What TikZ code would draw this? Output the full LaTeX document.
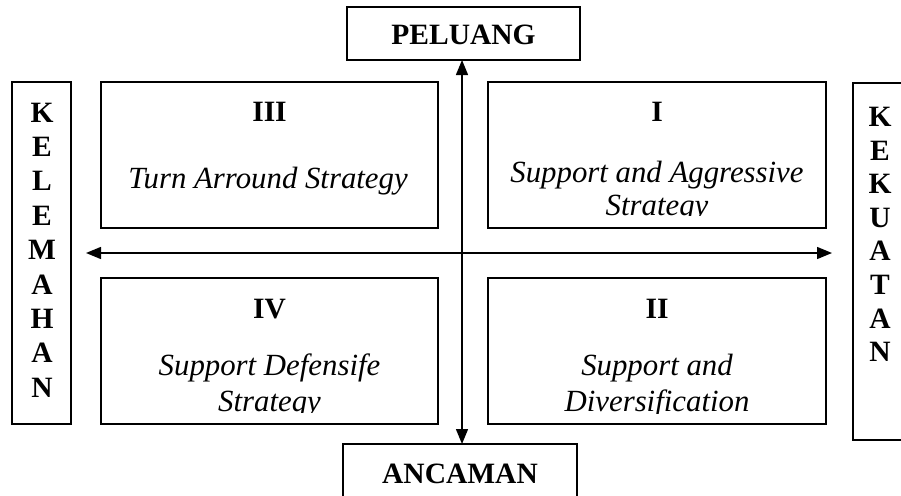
\documentclass[tikz,border=0pt]{standalone}
\usepackage{fontspec}
\setmainfont{Liberation Serif}
\usetikzlibrary{arrows.meta}

\begin{document}
\begin{tikzpicture}[x=1pt,y=-1pt,
  >={Triangle[length=15pt,width=12pt]},
  frame/.style={draw, line width=1.4pt, inner sep=0pt, outer sep=0pt},
  hd/.style={font=\bfseries\fontsize{29.5}{34}\selectfont, anchor=base, inner sep=0pt},
  itx/.style={font=\itshape\fontsize{30.8}{34}\selectfont, anchor=base, inner sep=0pt},
  axis/.style={line width=1.4pt, <->}
]
\useasboundingbox (0,0) rectangle (901,495);

% frames
\node[frame, minimum width=233pt, minimum height=53pt] (pel) at (463.5,33.5) {};
\node[frame, minimum width=234pt, minimum height=56pt] (anc) at (460,472) {};
\node[frame, minimum width=59pt, minimum height=342pt] (kel) at (41.5,253) {};
\node[frame, minimum width=59pt, minimum height=357pt] (kek) at (882.5,261.5) {};
\node[frame, minimum width=337pt, minimum height=146pt] (q3) at (269.5,155) {};
\node[frame, minimum width=338pt, minimum height=146pt] (q1) at (657,155) {};
\node[frame, minimum width=337pt, minimum height=146pt] (q4) at (269.5,351) {};
\node[frame, minimum width=338pt, minimum height=146pt] (q2) at (657,351) {};

% axis labels
\node[hd] (tpel) at (463.5,45) {PELUANG};
\node[hd] (tanc) at (460,483) {ANCAMAN};
\foreach \ch [count=\i from 0] in {K,E,L,E,M,A,H,A,N}
  \node[hd] (kel\i) at (42,{122+34.4*\i}) {\ch};
\foreach \ch [count=\i from 0] in {K,E,K,U,A,T,A,N}
  \node[hd] (kek\i) at (880,{126.5+33.6*\i}) {\ch};

% quadrant texts, clipped inside the text area of each box
\begin{scope}
  \clip (q3.north west) rectangle ([yshift=12pt]q3.south east);
  \node[hd] (n3) at (269.5,121) {III};
  \node[itx] (s3) at (268,188) {Turn Arround Strategy};
\end{scope}
\begin{scope}
  \clip (q1.north west) rectangle ([yshift=13pt]q1.south east);
  \node[hd] (n1) at (657,121) {I};
  \node[itx] (s1a) at (657,182) {Support and Aggressive};
  \node[itx] (s1b) at (657,215) {Strategy};
\end{scope}
\begin{scope}
  \clip (q4.north west) rectangle ([yshift=12pt]q4.south east);
  \node[hd] (n4) at (269.5,318) {IV};
  \node[itx] (s4a) at (269.5,375) {Support Defensife};
  \node[itx] (s4b) at (269.5,411) {Strategy};
\end{scope}
\begin{scope}
  \clip (q2.north west) rectangle ([yshift=11pt]q2.south east);
  \node[hd] (n2) at (657,318) {II};
  \node[itx] (s2a) at (657,375) {Support and};
  \node[itx] (s2b) at (657,411) {Diversification};
\end{scope}

% axes
\coordinate (c) at (462,253);
\coordinate (hl) at (86,253);
\coordinate (hr) at (832,253);
\draw[axis] (pel.south -| c) -- (anc.north -| c);
\draw[axis] (hl) -- (hr);
\end{tikzpicture}
\end{document}
